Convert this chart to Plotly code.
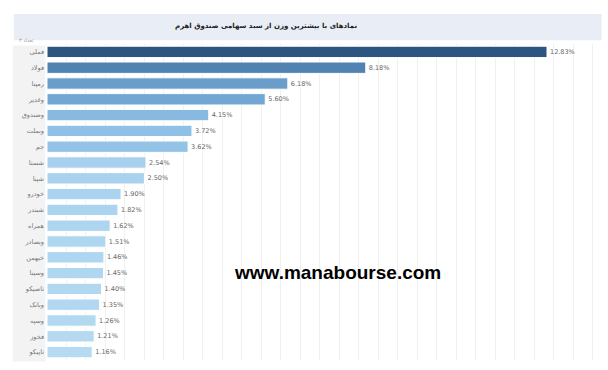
import plotly.graph_objects as go

symbols = ["فملی", "فولاد", "رمپنا", "وغدیر", "وصندوق", "وبملت", "جم", "شستا", "شپنا", "خودرو",
           "شبندر", "همراه", "وبصادر", "خبهمن", "وسینا", "تاصیکو", "وبانک", "وسپه", "فخوز", "تاپیکو"]
weights = [12.83, 8.18, 6.18, 5.60, 4.15, 3.72, 3.62, 2.54, 2.50, 1.90,
           1.82, 1.62, 1.51, 1.46, 1.45, 1.40, 1.35, 1.26, 1.21, 1.16]
bar_colors = ["#2c5681", "#5083b2", "#6a9dca", "#72a7d4", "#88b9e0", "#8fc0e5", "#93c3e7",
              "#a7d0ee", "#a9d2ee", "#aad3ef", "#abd4ef", "#add5f0", "#aed6f0", "#afd6f0",
              "#b0d7f0", "#b1d7f1", "#b2d8f1", "#b3d9f1", "#b4d9f1", "#b5daf2"]
title_text = "نمادهای با بیشترین وزن از سبد سهامی صندوق اهرم"
watermark = "www.manabourse.com"

fig = go.Figure(go.Bar(
    x=weights, y=symbols, orientation="h",
    marker=dict(color=bar_colors, line=dict(color="white", width=1)),
    text=[f"{v:.2f}%" for v in weights], textposition="outside",
    textfont=dict(size=6.5, color="#666", family="DejaVu Sans"),
    cliponaxis=False, width=0.72,
))

fig.update_layout(
    width=608, height=370,
    margin=dict(l=47, r=8, t=44, b=10),
    paper_bgcolor="white", plot_bgcolor="white",
    showlegend=False,
    xaxis=dict(range=[0, 14.19], dtick=0.5, showgrid=True, gridcolor="#f0f0f0", gridwidth=1,
               showticklabels=False, zeroline=False, showline=False, fixedrange=True),
    yaxis=dict(autorange="reversed", showgrid=False, ticks="", ticklabelstandoff=2,
               tickfont=dict(size=6.5, color="#777", family="DejaVu Sans"), showline=False),
    shapes=[
        dict(type="rect", xref="paper", yref="paper", x0=-0.06, x1=1.003, y0=1.012, y1=1.095,
             fillcolor="#e9edf5", line=dict(width=0), layer="below"),
        dict(type="rect", xref="paper", yref="paper", x0=-0.062, x1=-0.003, y0=-0.005, y1=0.995,
             fillcolor="#f3f3f3", line=dict(width=0), layer="below"),
    ],
    annotations=[
        dict(text="<b>" + title_text + "</b>", xref="paper", yref="paper", x=0.396, y=1.056,
             xanchor="center", yanchor="middle",
             showarrow=False, font=dict(size=7, color="#222", family="DejaVu Sans")),
        dict(text="تعداد ۳", xref="paper", yref="paper", x=-0.037, y=0.997, yanchor="bottom",
             xanchor="center",
             showarrow=False, font=dict(size=5, color="#999", family="DejaVu Sans")),
        dict(text="<b>" + watermark + "</b>", xref="paper", yref="paper", x=0.526, y=0.278,
             xanchor="center", yanchor="middle",
             showarrow=False, font=dict(size=19, color="#000", family="Liberation Sans")),
    ],
)

fig.write_html("out.html")
